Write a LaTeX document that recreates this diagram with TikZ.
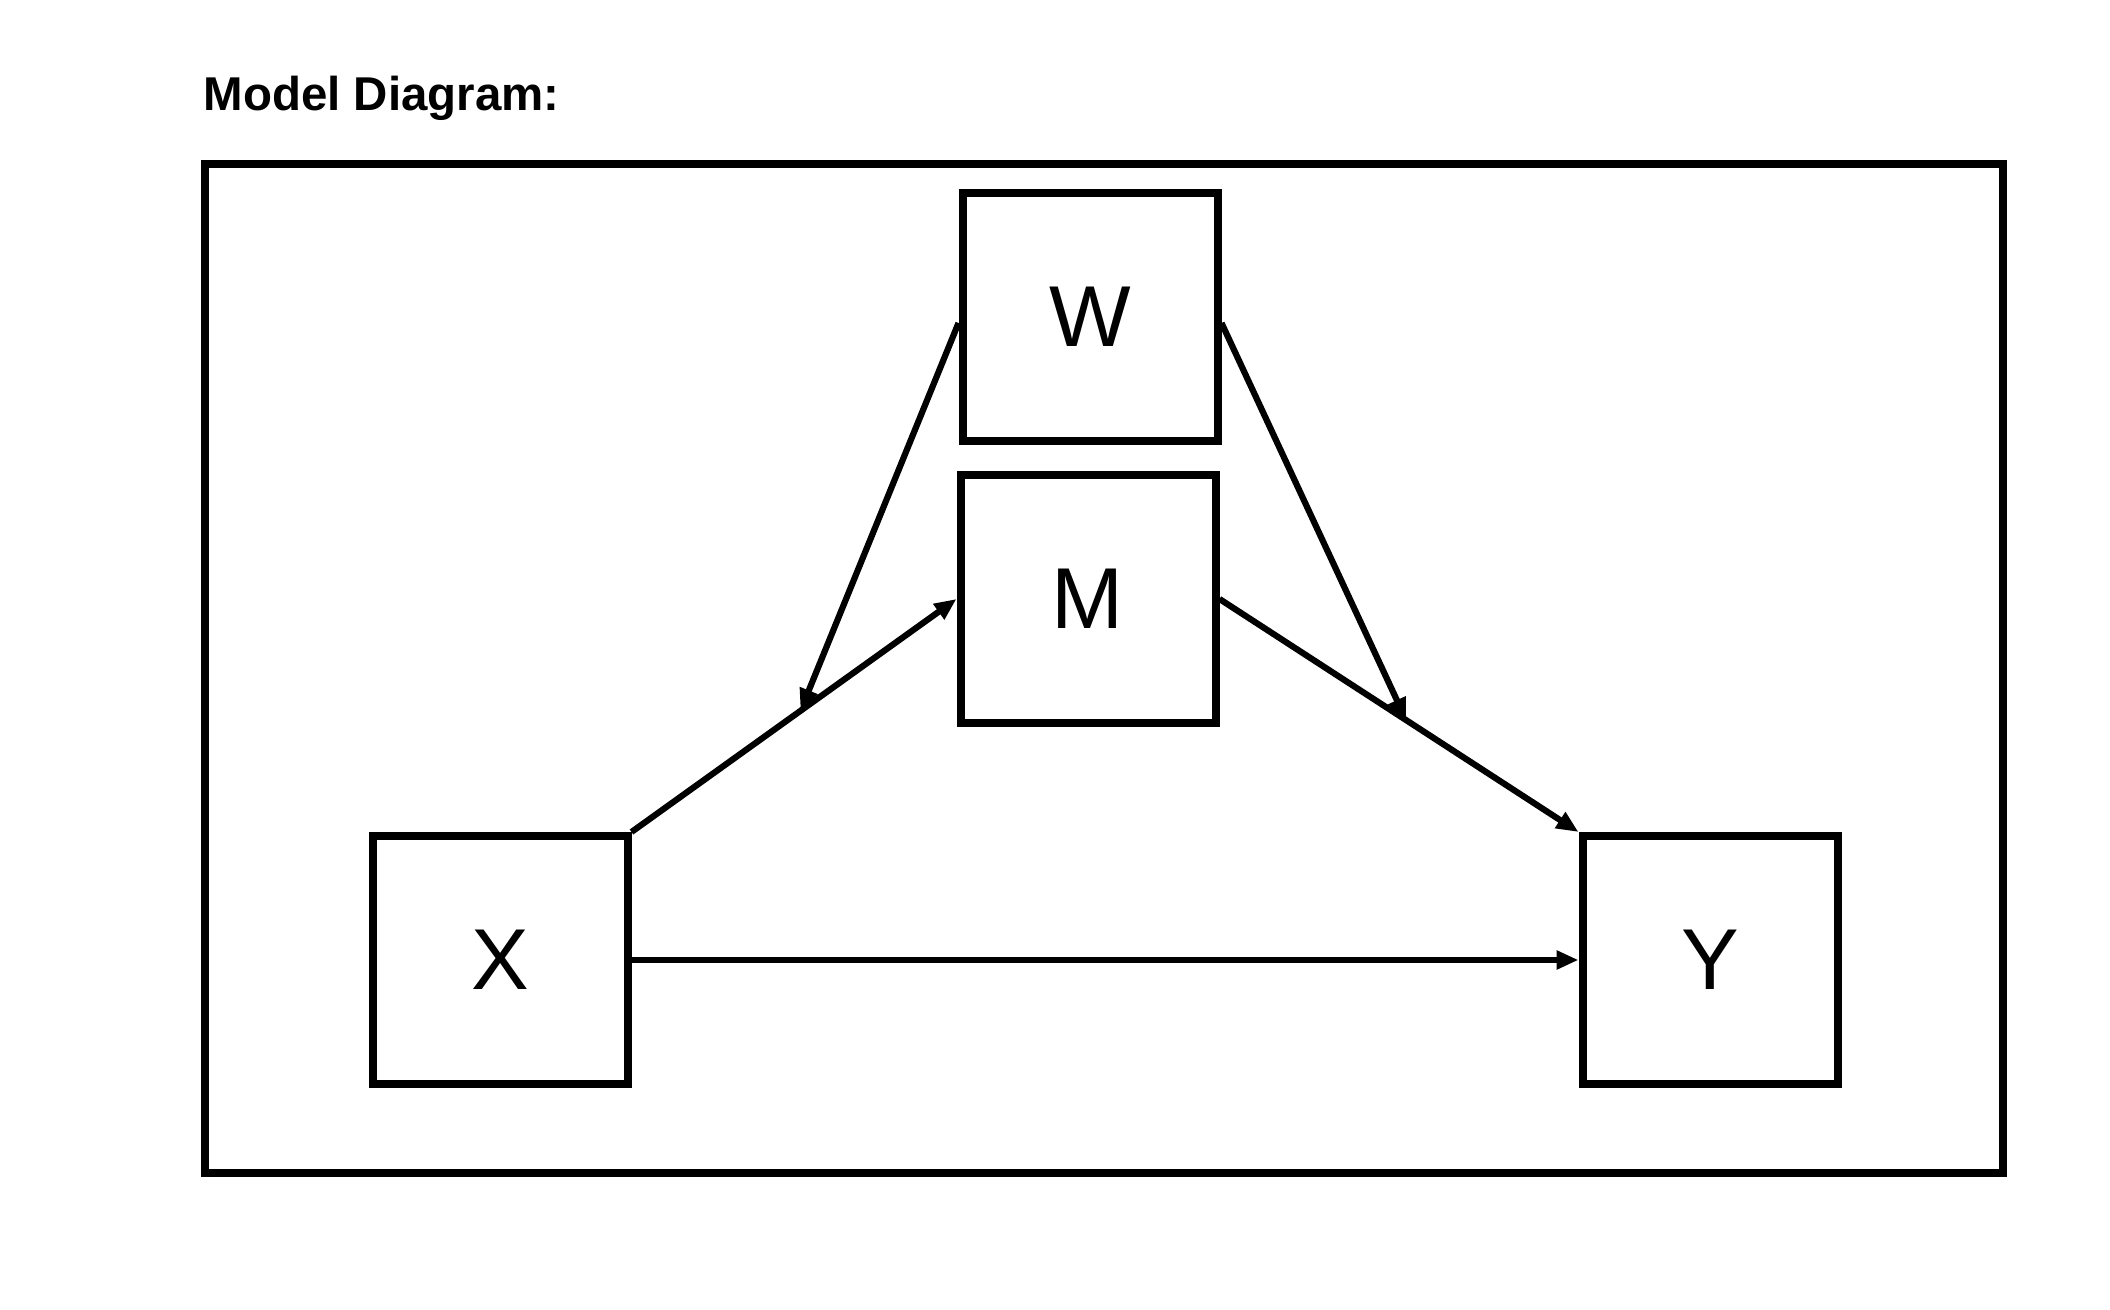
\documentclass[tikz,border=0pt]{standalone}
\usepackage{fontspec}
\setmainfont{Liberation Sans}
\usetikzlibrary{arrows.meta}

\begin{document}
\begin{tikzpicture}[x=0.1mm,y=-0.1mm,
    box/.style={draw,line width=0.8mm,inner sep=0pt,minimum width=25.5mm,
      minimum height=24.8mm,font=\fontsize{24.6}{30}\selectfont},
    link/.style={line width=0.62mm,-{Triangle[length=2.2mm,width=1.8mm]}}]

    \useasboundingbox (0,0) rectangle (2110,1310);

    % Heading and outer frame
    \node[anchor=base west,inner sep=0pt,font=\bfseries\fontsize{13.5}{16}\selectfont]
      (title) at (203,111) {Model Diagram:};
    \draw[line width=0.8mm] (205,164) rectangle (2003,1173);

    % Place the four variables
    \node[box] (w) at (1090,317) {W};
    \node[box] (m) at (1088,599) {M};
    \node[box] (x) at (500,960)  {X};
    \node[box] (y) at (1710,960) {Y};

    % Paths X -> M -> Y and the direct one
    \draw[link] (x.north east) -- coordinate[pos=0.52] (xm) (m.west);
    \draw[link] (m.east) -- coordinate[pos=0.52] (my) (y.north west);
    \draw[link] (x.east) -- (y.west);

    % W points at both paths
    \draw[link] ([yshift=-0.6mm]w.west) -- (xm);
    \draw[link] ([yshift=-0.6mm]w.east) -- (my);
\end{tikzpicture}
\end{document}
